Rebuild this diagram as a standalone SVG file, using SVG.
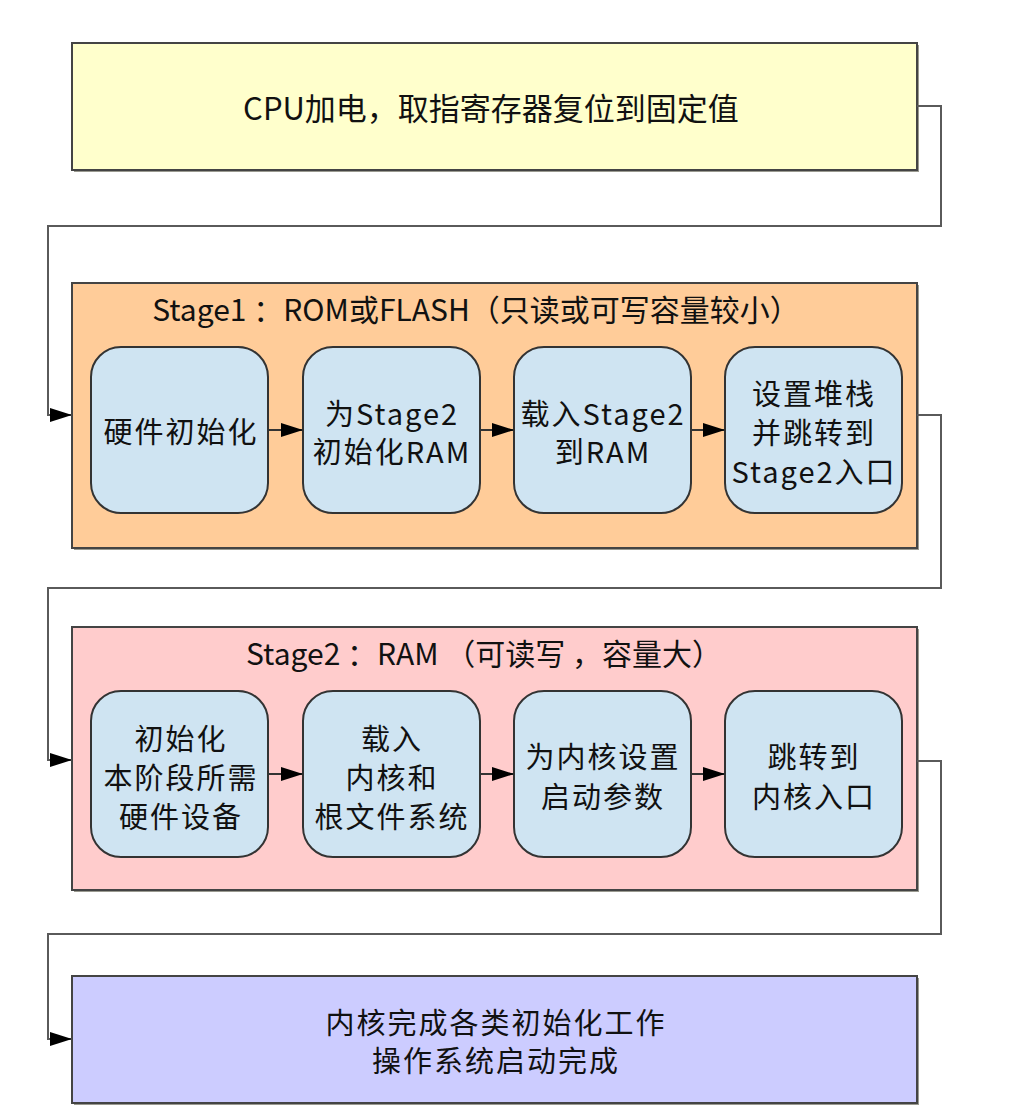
<svg xmlns="http://www.w3.org/2000/svg" width="1024" height="1116" viewBox="0 0 1024 1116">
  <style>
    text { font-family: "Noto Sans CJK SC", "Noto Sans", sans-serif; fill: #111; text-anchor: middle; dominant-baseline: central; }
    .big { font-size: 31px; }
    .lbl { font-size: 30px; }
    .step { font-size: 29px; letter-spacing: 2px; }
    .foot { font-size: 29px; letter-spacing: 2px; }
    .box { stroke: #444; stroke-width: 2; }
    .shadow { fill: #9a9a90; }
    .node { fill: #cfe4f2; stroke: #333; stroke-width: 2; }
    .link { fill: none; stroke: #5a5a5a; stroke-width: 2; }
    .inner { fill: none; stroke: #333; stroke-width: 2; }
  </style>
  <defs>
    <marker id="arrow" viewBox="0 0 22 14" refX="22" refY="7" markerWidth="22" markerHeight="14" markerUnits="userSpaceOnUse" orient="auto">
      <path d="M0,0 L22,7 L0,14 Z" fill="#000"/>
    </marker>
  </defs>
  <rect width="1024" height="1116" fill="#fff"/>

  <!-- power on -->
  <g id="power-on">
    <rect class="shadow" x="74" y="45" width="845" height="127"/>
    <rect class="box" x="72" y="43" width="845" height="127" fill="#ffffcc"/>
    <text class="big" x="491" y="106">CPU加电，取指寄存器复位到固定值</text>
  </g>

  <!-- stage 1 -->
  <g id="stage1">
    <rect class="shadow" x="74" y="285" width="845" height="265"/>
    <rect class="box" x="72" y="283" width="845" height="265" fill="#ffcc99"/>
    <text class="lbl" x="476" y="308">Stage1 ：ROM或FLASH（只读或可写容量较小）</text>
  </g>
  <g id="s1-hw-init">
    <rect class="node" x="91" y="347" width="177" height="166" rx="30"/>
    <text class="step" x="181" y="430">硬件初始化</text>
  </g>
  <g id="s1-ram-init">
    <rect class="node" x="303" y="347" width="177" height="166" rx="30"/>
    <text class="step" x="392" y="412">为Stage2</text>
    <text class="step" x="392" y="450">初始化RAM</text>
  </g>
  <g id="s1-load">
    <rect class="node" x="514" y="347" width="177" height="166" rx="30"/>
    <text class="step" x="603" y="412">载入Stage2</text>
    <text class="step" x="603" y="450">到RAM</text>
  </g>
  <g id="s1-jump">
    <rect class="node" x="725" y="347" width="177" height="166" rx="30"/>
    <text class="step" x="814" y="392">设置堆栈</text>
    <text class="step" x="814" y="431">并跳转到</text>
    <text class="step" x="814" y="470">Stage2入口</text>
  </g>

  <!-- stage 2 -->
  <g id="stage2">
    <rect class="shadow" x="74" y="629" width="845" height="263"/>
    <rect class="box" x="72" y="627" width="845" height="263" fill="#ffcccc"/>
    <text class="lbl" x="484" y="652">Stage2 ：RAM （可读写 ，容量大）</text>
  </g>
  <g id="s2-hw-init">
    <rect class="node" x="91" y="691" width="177" height="166" rx="30"/>
    <text class="step" x="181" y="737">初始化</text>
    <text class="step" x="181" y="776">本阶段所需</text>
    <text class="step" x="181" y="815">硬件设备</text>
  </g>
  <g id="s2-load-kernel">
    <rect class="node" x="303" y="691" width="177" height="166" rx="30"/>
    <text class="step" x="392" y="737">载入</text>
    <text class="step" x="392" y="776">内核和</text>
    <text class="step" x="392" y="815">根文件系统</text>
  </g>
  <g id="s2-params">
    <rect class="node" x="514" y="691" width="177" height="166" rx="30"/>
    <text class="step" x="603" y="755">为内核设置</text>
    <text class="step" x="603" y="795">启动参数</text>
  </g>
  <g id="s2-jump">
    <rect class="node" x="725" y="691" width="177" height="166" rx="30"/>
    <text class="step" x="814" y="755">跳转到</text>
    <text class="step" x="814" y="795">内核入口</text>
  </g>

  <!-- kernel -->
  <g id="kernel">
    <rect class="shadow" x="74" y="978" width="845" height="127"/>
    <rect class="box" x="72" y="976" width="845" height="127" fill="#ccccff"/>
    <text class="foot" x="496" y="1021">内核完成各类初始化工作</text>
    <text class="foot" x="496" y="1059">操作系统启动完成</text>
  </g>

  <!-- connectors -->
  <g id="connectors">
    <path class="link" d="M917,106 H941 V226 H48 V415 H72" marker-end="url(#arrow)"/>
    <path class="link" d="M917,415 H941 V588 H48 V760 H72" marker-end="url(#arrow)"/>
    <path class="link" d="M917,761 H941 V934 H48 V1039 H72" marker-end="url(#arrow)"/>
    <path class="inner" d="M268,430 H303" marker-end="url(#arrow)"/>
    <path class="inner" d="M480,430 H514" marker-end="url(#arrow)"/>
    <path class="inner" d="M691,430 H725" marker-end="url(#arrow)"/>
    <path class="inner" d="M268,774 H303" marker-end="url(#arrow)"/>
    <path class="inner" d="M480,774 H514" marker-end="url(#arrow)"/>
    <path class="inner" d="M691,774 H725" marker-end="url(#arrow)"/>
  </g>
</svg>
